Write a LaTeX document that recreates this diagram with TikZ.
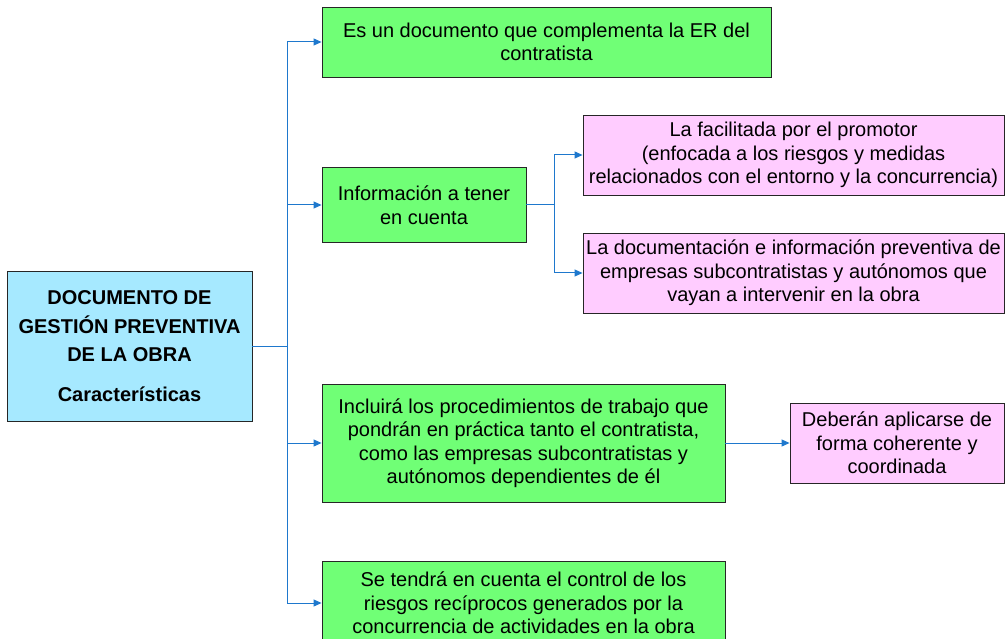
\documentclass[tikz,border=0pt]{standalone}
\usepackage{fontspec}
\setmainfont{Liberation Sans}
\usetikzlibrary{arrows.meta}
\definecolor{gfill}{RGB}{112,255,118}
\definecolor{pfill}{RGB}{255,204,255}
\definecolor{cfill}{RGB}{166,233,255}
\definecolor{lblue}{RGB}{30,120,205}
\tikzset{
  box/.style={draw=black!85, line width=0.9pt, inner sep=0pt, align=center, font=\fontsize{20}{23.5}\selectfont},
  gbox/.style={box, fill=gfill},
  pbox/.style={box, fill=pfill},
  conn/.style={draw=lblue, line width=1pt},
  arr/.style={conn, -{Triangle[length=8pt,width=7pt]}},
}
\begin{document}
\begin{tikzpicture}[x=1pt,y=-1pt]
\clip (0,0) rectangle (1007,639);
\useasboundingbox (0,0) rectangle (1007,639);
\fill[white] (0,0) rectangle (1007,639);
\node[box, fill=cfill, minimum width=245pt, minimum height=150pt, font=\bfseries\fontsize{20}{28.5}\selectfont] (main) at (129.5,346)
  {DOCUMENTO DE\\GESTIÓN PREVENTIVA\\DE LA OBRA\\[11pt]Características};
\node[gbox, minimum width=449pt, minimum height=70pt] (g1) at (546.5,42)
  {Es un documento que complementa la ER del\\contratista};
\node[gbox, minimum width=204pt, minimum height=75pt] (g2) at (424,205)
  {Información a tener\\en cuenta};
\node[pbox, minimum width=421pt, minimum height=80pt] (p1) at (793.5,155)
  {La facilitada por el promotor\\(enfocada a los riesgos y medidas\\relacionados con el entorno y la concurrencia)};
\node[pbox, minimum width=421pt, minimum height=80pt] (p2) at (793.5,273)
  {La documentación e información preventiva de\\empresas subcontratistas y autónomos que\\vayan a intervenir en la obra};
\node[gbox, minimum width=403pt, minimum height=118pt] (g3) at (523.5,443)
  {Incluirá los procedimientos de trabajo que\\pondrán en práctica tanto el contratista,\\como las empresas subcontratistas y\\autónomos dependientes de él};
\node[pbox, minimum width=214pt, minimum height=80pt] (p3) at (897,443)
  {Deberán aplicarse de\\forma coherente y\\coordinada};
\node[gbox, minimum width=403pt, minimum height=84pt] (g4) at (523.5,603)
  {Se tendrá en cuenta el control de los\\riesgos recíprocos generados por la\\concurrencia de actividades en la obra};
\coordinate (t) at (287,346);
\coordinate (b) at (554,205);
\draw[conn] (main.east) -- (t);
\draw[conn] (t |- g1.west) -- (t |- g4.west);
\draw[arr] (t) |- (g1.west);
\draw[arr] (t) |- (g2.west);
\draw[arr] (t) |- (g3.west);
\draw[arr] (t) |- (g4.west);
\draw[conn] (g2.east) -- (b);
\draw[arr] (b) |- (p1.west);
\draw[arr] (b) |- (p2.west);
\draw[arr] (g3.east) -- (p3.west);
\end{tikzpicture}
\end{document}
